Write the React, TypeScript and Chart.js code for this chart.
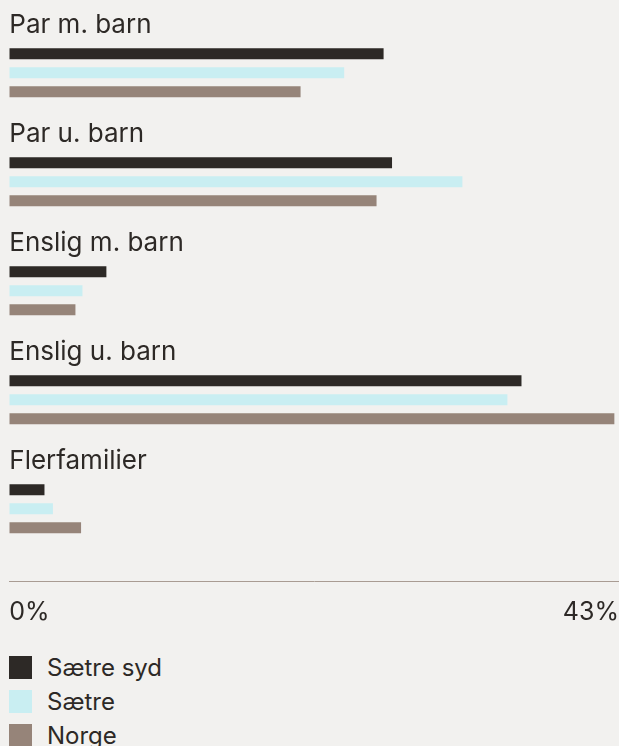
import React, { useEffect, useRef } from "react";
import { Chart, registerables } from "chart.js";

Chart.register(...registerables);

const categories = ["Par m. barn", "Par u. barn", "Enslig m. barn", "Enslig u. barn", "Flerfamilier"];
const seriesNames = ["Sætre syd", "Sætre", "Norge"];
const saetreSyd = [26.6, 27.2, 6.9, 36.4, 2.5];
const saetre = [23.8, 32.2, 5.2, 35.4, 3.1];
const norge = [20.7, 26.1, 4.7, 43.0, 5.1];
const tickValues = [0, 43.33];
const tickLabels = ["0%", "43%"];

const seriesColors = ["#2d2926", "#c9eef2", "#968479"];
const textColor = "#2d2926";
const axisColor = "#a99c93";
const bgColor = "#f2f1ef";
const FONT = "Inter, 'Noto Sans', sans-serif";

export default function App() {
  const canvasRef = useRef<HTMLCanvasElement | null>(null);

  useEffect(() => {
    document.body.style.margin = "0";
    document.body.style.background = bgColor;
    document.documentElement.style.background = bgColor;
    document.documentElement.style.overflow = "hidden";
    const canvas = canvasRef.current;
    if (!canvas) return;
    const seriesData = [saetreSyd, saetre, norge];
    const chart = new Chart(canvas, {
      type: "bar",
      data: {
        labels: categories,
        datasets: seriesNames.map((name, i) => ({
          label: name,
          data: seriesData[i],
          backgroundColor: seriesColors[i],
          borderWidth: 0,
          categoryPercentage: 57 / 109,
          barPercentage: 11 / 19,
        })),
      },
      options: {
        indexAxis: "y",
        responsive: true,
        maintainAspectRatio: false,
        animation: false,
        layout: { padding: { top: 18.3, left: 9.3, right: 0, bottom: 92.7 } },
        plugins: {
          legend: { display: false },
          tooltip: { enabled: false },
        },
        scales: {
          y: {
            type: "category",
            offset: true,
            grid: { display: false, drawTicks: false },
            border: { display: false },
            ticks: {
              mirror: true,
              padding: 0,
              labelOffset: -48,
              color: textColor,
              font: { family: FONT, size: 26 },
            },
          },
          x: {
            type: "linear",
            position: { y: 4.669 } as any,
            min: tickValues[0],
            max: tickValues[tickValues.length - 1],
            grid: { display: false, drawTicks: false },
            border: { display: true, color: axisColor, width: 1 },
            afterBuildTicks: (scale: any) => {
              scale.ticks = tickValues.map((v) => ({ value: v }));
            },
            ticks: {
              align: "inner",
              padding: 0,
              maxRotation: 0,
              minRotation: 0,
              autoSkip: false,
              color: textColor,
              font: { family: FONT, size: 25, lineHeight: 2.44 },
              callback: (_v: any, i: number) => tickLabels[i],
            },
          },
        },
      },
    });
    return () => chart.destroy();
  }, []);

  return (
    <div style={{ width: 619, background: bgColor, fontFamily: FONT }}>
      <div style={{ position: "relative", width: 619, height: 656 }}>
        <canvas ref={canvasRef} />
      </div>
      <div style={{ display: "flex", flexDirection: "column", gap: 11, paddingLeft: 9 }}>
        {seriesNames.map((name, i) => (
          <div key={name} style={{ display: "flex", alignItems: "center", height: 23 }}>
            <span style={{ display: "inline-block", width: 23, height: 23, background: seriesColors[i], marginRight: 15 }} />
            <span style={{ fontSize: 24, color: textColor, lineHeight: "23px" }}>{name}</span>
          </div>
        ))}
      </div>
    </div>
  );
}
